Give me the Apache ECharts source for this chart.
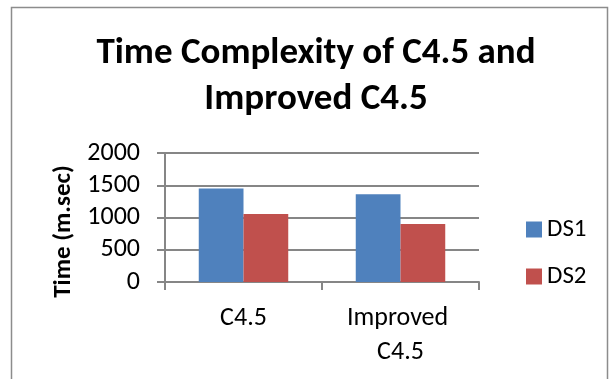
<!DOCTYPE html>
<html>
<head>
<meta charset="utf-8">
<script src="https://cdn.jsdelivr.net/npm/echarts@6/dist/echarts.min.js"></script>
<style>html,body{margin:0;padding:0;background:#fff}#c{width:611px;height:379px}</style>
</head>
<body>
<div id="c"></div>
<script>
var titleText = 'Time Complexity of C4.5 and\nImproved C4.5';
var categories = ['C4.5', 'Improved C4.5'];
var seriesNames = ['DS1', 'DS2'];
var ds1 = [1450, 1360];
var ds2 = [1055, 900];
var yTicks = [0, 500, 1000, 1500, 2000];
var yAxisTitle = 'Time (m.sec)';

var FONT = 'Carlito, "Open Sans", sans-serif';
var chart = echarts.init(document.getElementById('c'), null, {renderer: 'canvas'});
chart.setOption({
  animation: false,
  backgroundColor: '#fff',
  graphic: [{
    type: 'rect',
    shape: {x: 11.5, y: 7.5, width: 596, height: 420},
    style: {fill: 'none', stroke: '#8c8c8c', lineWidth: 1.5},
    silent: true
  }],
  title: {
    text: titleText,
    left: 311,
    top: 26,
    textAlign: 'center',
    textStyle: {fontFamily: FONT, fontWeight: 'bold', fontSize: 37, lineHeight: 46, color: '#000'}
  },
  legend: {
    orient: 'vertical',
    left: 521,
    top: 212,
    itemWidth: 16,
    itemHeight: 16,
    itemGap: 22,
    icon: 'rect',
    data: seriesNames,
    textStyle: {fontFamily: FONT, fontSize: 25, color: '#000', padding: [0, 0, 0, 0]}
  },
  grid: {left: 165, right: 132, top: 153, bottom: 97, containLabel: false},
  xAxis: {
    type: 'category',
    data: categories,
    axisLine: {lineStyle: {color: '#868686', width: 2}},
    axisTick: {show: true, length: 8, lineStyle: {color: '#868686', width: 2}, alignWithLabel: false},
    axisLabel: {fontFamily: FONT, fontSize: 26, color: '#000', margin: 19, lineHeight: 34, width: 120, overflow: 'break', interval: 0}
  },
  yAxis: {
    type: 'value',
    min: yTicks[0],
    max: yTicks[yTicks.length - 1],
    interval: yTicks[1] - yTicks[0],
    name: yAxisTitle,
    nameLocation: 'middle',
    nameGap: 88,
    nameTextStyle: {fontFamily: FONT, fontWeight: 'bold', fontSize: 25, color: '#000', padding: [0, 28, 0, 0]},
    axisLine: {show: true, lineStyle: {color: '#868686', width: 2}},
    axisTick: {show: true, length: 8, lineStyle: {color: '#868686', width: 2}},
    splitLine: {show: true, lineStyle: {color: '#868686', width: 2}},
    axisLabel: {fontFamily: FONT, fontSize: 26, color: '#000', margin: 25, formatter: function (v) { return String(v); }}
  },
  series: [
    {name: seriesNames[0], type: 'bar', data: ds1, barGap: '0%', barCategoryGap: '43%', itemStyle: {color: '#4F81BD'}},
    {name: seriesNames[1], type: 'bar', data: ds2, barGap: '0%', barCategoryGap: '43%', itemStyle: {color: '#C0504D'}}
  ]
});
</script>
</body>
</html>
